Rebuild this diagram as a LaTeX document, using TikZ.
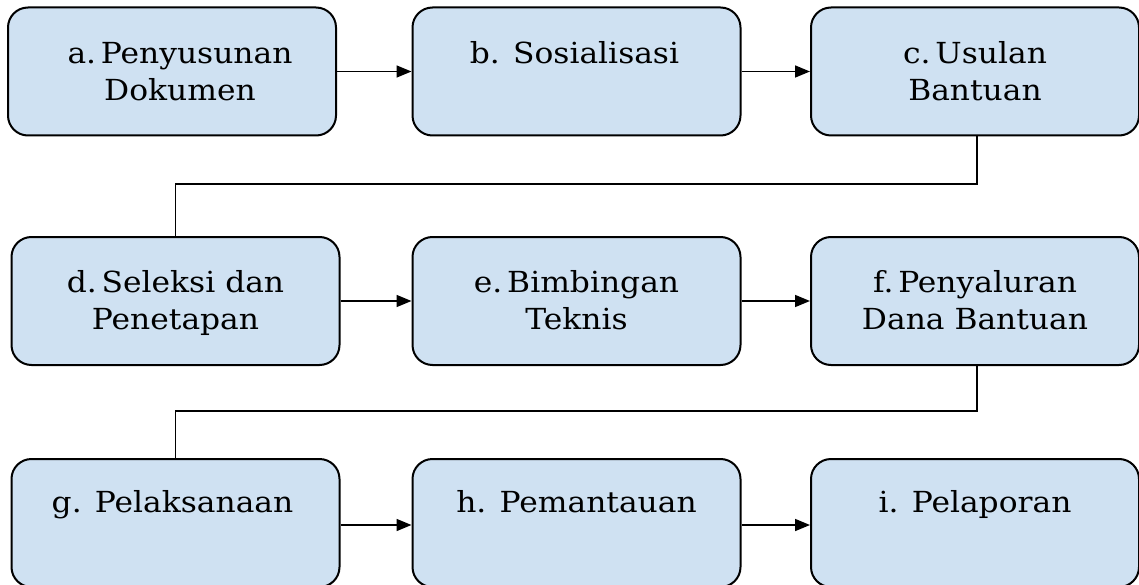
\documentclass[tikz,border=0pt]{standalone}
\usepackage{fontspec}
\setmainfont{DejaVu Serif}[FakeStretch=1.08]
\usetikzlibrary{arrows.meta,calc}
\definecolor{boxfill}{RGB}{207,225,242}
\tikzset{
  box/.style={draw=black, line width=2pt, fill=boxfill, rounded corners=20pt,
    minimum width=328pt, minimum height=128pt, inner sep=0pt},
  lbl/.style={anchor=base, inner sep=0pt, font=\fontsize{29}{37}\selectfont},
  conn/.style={draw=black, line width=1.6pt},
  arr/.style={conn, -{Triangle[length=15pt,width=12pt]}}
}
\begin{document}
\begin{tikzpicture}[x=1pt,y=-1pt]
\useasboundingbox (0,0) rectangle (1139,585);
\clip (0,0) rectangle (1139,585);
% row 1
\node[box] (a) at (172,71.5) {};
\node[box] (b) at (576.5,71.5) {};
\node[box] (c) at (975,71.5) {};
% row 2
\node[box] (d) at (175.5,301) {};
\node[box] (e) at (576.5,301) {};
\node[box] (f) at (975,301) {};
% row 3
\node[box] (g) at (175.5,523) {};
\node[box] (h) at (576.5,523) {};
\node[box] (i) at (975,523) {};
% labels
\node[lbl] (ta) at ($(a.north)+(8,57)$) {\begin{tabular}[t]{@{}c@{}}a.\,Penyusunan\\Dokumen\end{tabular}};
\node[lbl] (tb) at ($(b.north)+(-2,57)$) {b. Sosialisasi};
\node[lbl] (tc) at ($(c.north)+(0,57)$) {\begin{tabular}[t]{@{}c@{}}c.\,Usulan\\Bantuan\end{tabular}};
\node[lbl] (td) at ($(d.north)+(0,56)$) {\begin{tabular}[t]{@{}c@{}}d.\,Seleksi dan\\Penetapan\end{tabular}};
\node[lbl] (te) at ($(e.north)+(0,56)$) {\begin{tabular}[t]{@{}c@{}}e.\,Bimbingan\\Teknis\end{tabular}};
\node[lbl] (tf) at ($(f.north)+(0,56)$) {\begin{tabular}[t]{@{}c@{}}f.\,Penyaluran\\Dana Bantuan\end{tabular}};
\node[lbl] (tg) at ($(g.north)+(-3,54)$) {g. Pelaksanaan};
\node[lbl] (th) at ($(h.north)+(0,54)$) {h. Pemantauan};
\node[lbl] (ti) at ($(i.north)+(0,54)$) {i. Pelaporan};
% connectors
\draw[arr] (a.east) -- (b.west);
\draw[arr] (b.east) -- (c.west);
\draw[arr] (d.east) -- (e.west);
\draw[arr] (e.east) -- (f.west);
\draw[arr] ([yshift=-2pt]g.east) -- ([yshift=-2pt]h.west);
\draw[arr] ([yshift=-2pt]h.east) -- ([yshift=-2pt]i.west);
\coordinate (cd) at ($(d.north)+(0,-52)$);
\coordinate (fg) at ($(g.north)+(0,-47)$);
\draw[conn] ([xshift=2pt]c.south) |- (cd) -- (d.north);
\draw[conn] ([xshift=2pt]f.south) |- (fg) -- (g.north);
\end{tikzpicture}
\end{document}
